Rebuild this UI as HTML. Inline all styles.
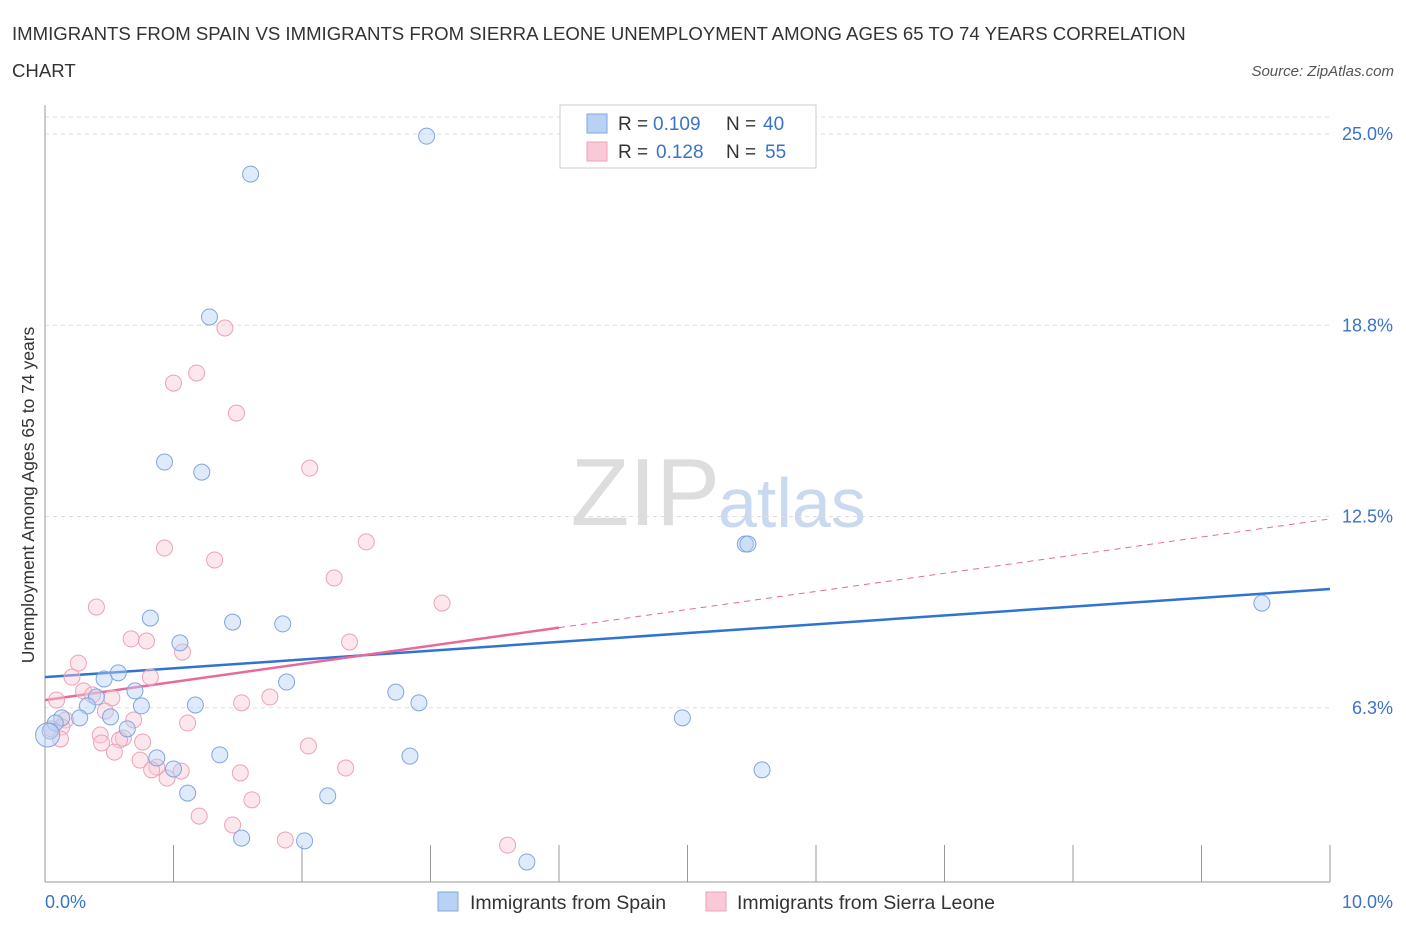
<!DOCTYPE html>
<html><head><meta charset="utf-8"><style>
body{margin:0;background:#fff;font-family:"Liberation Sans",sans-serif;}
svg text{font-family:"Liberation Sans",sans-serif;}
</style></head><body>
<svg id="chart" width="1406" height="930" xmlns="http://www.w3.org/2000/svg">
<text x="12" y="40" font-size="18.6" fill="#333">IMMIGRANTS FROM SPAIN VS IMMIGRANTS FROM SIERRA LEONE UNEMPLOYMENT AMONG AGES 65 TO 74 YEARS CORRELATION</text>
<text x="12" y="77" font-size="18.6" fill="#333">CHART</text>
<text x="1394" y="76" font-size="15" fill="#555" text-anchor="end" font-style="italic">Source: ZipAtlas.com</text>
<text x="720" y="525" font-size="96" text-anchor="end" fill="#ddd" font-family="Liberation Serif">ZIP</text>
<text x="718" y="527" font-size="70" fill="#c9daf0">atlas</text>
<text transform="translate(34,495) rotate(-90)" font-size="17.5" fill="#333" text-anchor="middle">Unemployment Among Ages 65 to 74 years</text>
<g id="grid"></g><g id="axes"></g><g id="lines"></g><g id="pts"></g>
<g>
<rect x="560" y="105" width="256" height="63" fill="#fff" stroke="#ccc"/>
<rect x="587" y="114" width="20" height="19" fill="#b9d1f5" stroke="#7fa6e0"/>
<text x="618" y="130" font-size="19" fill="#333">R =</text><text x="653" y="130" font-size="19" fill="#3a73c8">0.109</text>
<text x="726" y="130" font-size="19" fill="#333">N =</text><text x="763" y="130" font-size="19" fill="#3a73c8">40</text>
<rect x="587" y="142" width="20" height="19" fill="#f9c9d8" stroke="#eda1b9"/>
<text x="618" y="158" font-size="19" fill="#333">R =</text><text x="656" y="158" font-size="19" fill="#3a73c8">0.128</text>
<text x="726" y="158" font-size="19" fill="#333">N =</text><text x="765" y="158" font-size="19" fill="#3a73c8">55</text>
</g>
<g>
<rect x="438" y="892" width="20" height="19" fill="#b9d1f5" stroke="#7fa6e0"/>
<text x="470" y="909" font-size="19.5" fill="#333">Immigrants from Spain</text>
<rect x="706" y="892" width="20" height="19" fill="#f9c9d8" stroke="#eda1b9"/>
<text x="737" y="909" font-size="19.5" fill="#333">Immigrants from Sierra Leone</text>
</g>
</svg>
<script>
const yTicks=[6.25,12.5,18.75,25];
const yTickLabels=["6.3%","12.5%","18.8%","25.0%"];
const xTicks=[0,1,2,3,4,5,6,7,8,9,10];
const spainX=[2.97,1.60,1.28,0.93,1.22,5.45,5.47,9.47,0.82,1.46,1.85,1.05,0.57,0.46,1.88,0.70,2.73,0.40,0.33,0.75,1.17,2.91,0.51,0.27,0.13,4.96,0.08,0.64,0.04,0.02,1.36,2.84,0.87,1.00,5.58,1.11,2.20,1.53,2.02,3.75];
const spainY=[24.93,23.69,19.02,14.28,13.95,11.60,11.60,9.67,9.18,9.05,8.99,8.37,7.39,7.19,7.09,6.80,6.76,6.60,6.31,6.31,6.34,6.41,5.95,5.92,5.92,5.92,5.75,5.56,5.49,5.36,4.71,4.67,4.61,4.25,4.22,3.46,3.37,1.99,1.90,1.21];
const slX=[1.40,1.18,1.00,1.49,2.06,2.50,0.93,1.32,2.25,3.09,0.40,0.67,0.79,2.37,1.07,0.26,0.82,0.21,0.30,0.37,1.75,0.52,1.53,0.09,0.47,0.69,1.11,0.16,0.13,0.05,0.43,0.61,0.58,0.76,0.44,0.12,2.05,0.54,0.74,0.87,1.06,0.83,2.34,1.52,0.95,1.61,1.20,1.46,1.87,3.60];
const slY=[18.66,17.19,16.86,15.88,14.08,11.67,11.47,11.08,10.49,9.67,9.54,8.50,8.43,8.40,8.07,7.71,7.25,7.25,6.80,6.67,6.60,6.57,6.41,6.50,6.14,5.85,5.75,5.85,5.62,5.56,5.36,5.26,5.20,5.13,5.10,5.23,5.00,4.80,4.54,4.31,4.18,4.22,4.28,4.12,3.95,3.24,2.71,2.42,1.93,1.76];
const spainTrend=[7.25,10.13];
const slTrend=[6.5,12.42];
const slSolidEnd=4.0;
const X=v=>45+v*128.5, Y=v=>899-v*30.6;
const NS="http://www.w3.org/2000/svg";
function mk(p,t,a){const e=document.createElementNS(NS,t);for(const k in a)e.setAttribute(k,a[k]);document.getElementById(p).appendChild(e);return e;}
yTicks.forEach((t,i)=>{
 const l=mk('grid','line',{x1:45,x2:1330,y1:Y(t),y2:Y(t),stroke:'#ddd','stroke-dasharray':'4,4'});
 
 
 const tx=mk('grid','text',{x:1393,y:Y(t)+6,'font-size':18,fill:'#3a73c8','text-anchor':'end'});tx.textContent=yTickLabels[i];
 
 
});
mk('grid','line',{x1:45,x2:1330,y1:117,y2:117,stroke:'#ddd','stroke-dasharray':'4,4'});
mk('axes','line',{x1:45,x2:45,y1:105,y2:882,stroke:'#999'});
mk('axes','line',{x1:45,x2:1330,y1:882,y2:882,stroke:'#999'});
xTicks.forEach(t=>{const l=mk('axes','line',{x1:X(t),x2:X(t),y1:845,y2:882,stroke:'#999'});
 
 });
let a=mk('axes','text',{x:45,y:908,'font-size':18,fill:'#3a73c8'});a.textContent='0.0%';


a=mk('axes','text',{x:1393,y:908,'font-size':18,fill:'#3a73c8','text-anchor':'end'});a.textContent='10.0%';


function dot(x,y,fill,stroke,r,name){const c=mk('pts','circle',{cx:X(x),cy:Y(y),r:r,fill:fill,'fill-opacity':0.45,stroke:stroke,'stroke-width':1});
 
 }
slX.forEach((x,i)=>dot(x,slY[i],'#f9c9d8','#eda1b9',8,'sierra-leone-point'));
spainX.forEach((x,i)=>dot(x,spainY[i],'#b9d1f5','#7fa6e0',(i==29?12:8),'spain-point'));
let tl=mk('lines','line',{x1:X(0),y1:Y(spainTrend[0]),x2:X(10),y2:Y(spainTrend[1]),stroke:'#2f74d0','stroke-width':2.5});


const ps=slTrend[0]+(slTrend[1]-slTrend[0])*slSolidEnd/10;
tl=mk('lines','line',{x1:X(0),y1:Y(slTrend[0]),x2:X(slSolidEnd),y2:Y(ps),stroke:'#e8699a','stroke-width':2.5});


tl=mk('lines','line',{x1:X(slSolidEnd),y1:Y(ps),x2:X(10),y2:Y(slTrend[1]),stroke:'#e8699a','stroke-width':1,'stroke-dasharray':'6,5'});


</script>
</body></html>
